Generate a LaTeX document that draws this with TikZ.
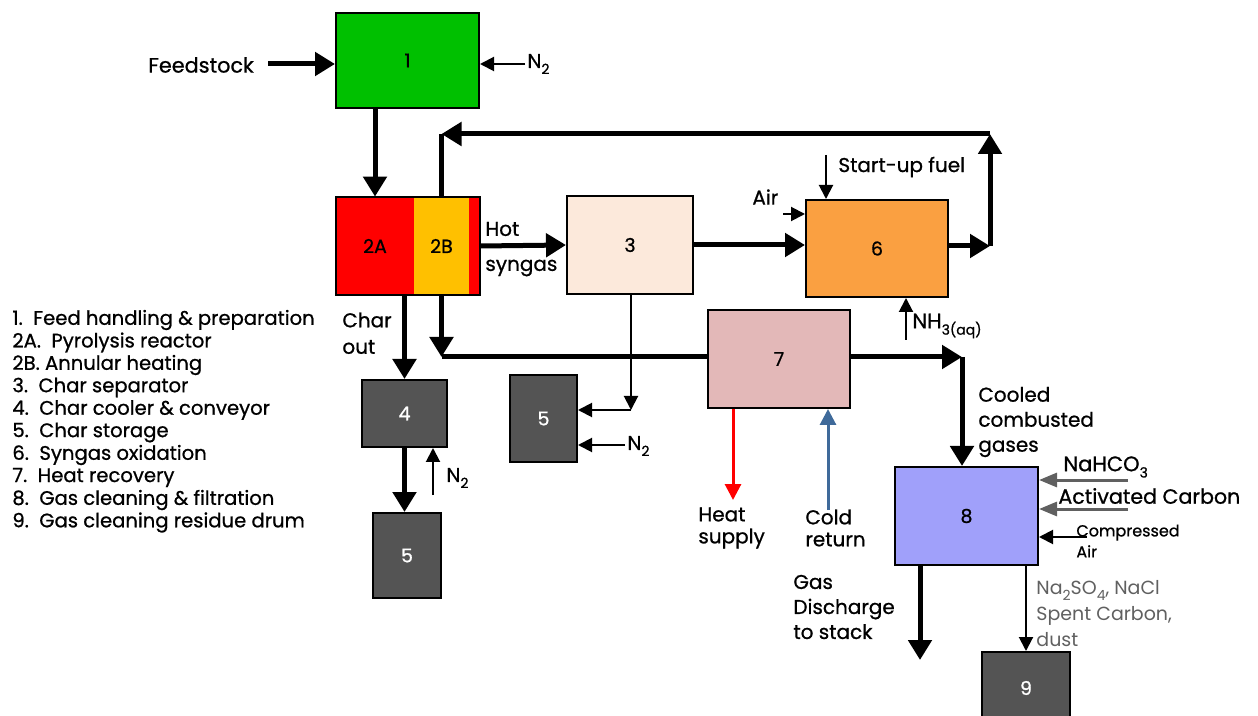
\documentclass[tikz,border=0pt]{standalone}
\usepackage{fontspec}
\setmainfont{Poppins}[FakeBold=0.8]
\newfontfamily\thinfont{Poppins}
\usetikzlibrary{arrows.meta}

\newcommand{\lowsub}[1]{\raisebox{-0.55ex}{\scriptsize #1}}

\definecolor{feedgreen}{RGB}{0,192,0}
\definecolor{heatorange}{RGB}{255,192,0}
\definecolor{sepcream}{RGB}{252,233,219}
\definecolor{oxorange}{RGB}{250,160,65}
\definecolor{recpink}{RGB}{227,184,184}
\definecolor{cleanblue}{RGB}{160,160,250}
\definecolor{storegray}{RGB}{84,84,84}
\definecolor{coldblue}{RGB}{63,106,154}
\definecolor{dosegray}{RGB}{96,96,96}

\tikzset{
  unit/.style={draw=black, line width=1pt, inner sep=0pt, font=\fontsize{9.5}{11}\selectfont},
  darkunit/.style={unit, fill=storegray, text=white},
  bigflow/.style={line width=2.5pt, -{Triangle[length=10pt,width=11.5pt]}},
  bigline/.style={line width=2.5pt},
  smallflow/.style={line width=1pt, -{Triangle[length=7pt,width=7pt]}},
  lbl/.style={font=\fontsize{10}{11}\selectfont, inner sep=0pt, anchor=west},
}

\begin{document}
\begin{tikzpicture}[x=0.5pt,y=-0.5pt]
    \useasboundingbox (0,0) rectangle (1258,716);

    % Process units
    \node[unit, fill=feedgreen, minimum width=71.5pt, minimum height=47.5pt] (b1) at (407.5,60.5) {1};
    \node[fill=red, inner sep=0pt, minimum width=39pt, minimum height=49pt, font=\fontsize{9.5}{11}\selectfont] (b2a) at (375,246) {2A};
    \node[fill=heatorange, inner sep=0pt, minimum width=27.5pt, minimum height=49pt, font=\fontsize{9.5}{11}\selectfont] (b2b) at (441.5,246) {2B};
    \node[fill=red, inner sep=0pt, minimum width=5.5pt, minimum height=49pt] (b2c) at (474.5,246) {};
    \draw[line width=1pt] (b2a.north west) rectangle (b2c.south east);
    \node[unit, fill=sepcream, minimum width=63pt, minimum height=49pt] (b3) at (630,245) {3};
    \node[unit, fill=oxorange, minimum width=71pt, minimum height=48.5pt] (b6) at (877,248.5) {6};
    \node[unit, fill=recpink, minimum width=71pt, minimum height=49pt] (b7) at (779,359) {7};
    \node[darkunit, minimum width=42.5pt, minimum height=33.5pt] (b4) at (404.5,413.5) {4};
    \node[darkunit, minimum width=34pt, minimum height=42.5pt] (b5a) at (407,555.5) {5};
    \node[darkunit, minimum width=33.5pt, minimum height=43.5pt] (b5b) at (543.5,418.5) {5};
    \node[unit, fill=cleanblue, minimum width=71.5pt, minimum height=49pt] (b8) at (966.5,516) {8};
    \node[darkunit, minimum width=44pt, minimum height=36pt, text depth=0pt] (b9) at (1026,688) {9};

    % Free ends of the streams
    \coordinate (cfeed) at (268,64);
    \coordinate (c6r) at (990,246);
    \coordinate (rtop) at (990,134);
    \coordinate (cfuel) at (826,155);
    \coordinate (cair) at (783,214);
    \coordinate (cnh) at (906,340);
    \coordinate (c35) at (631,410);
    \coordinate (cn1) at (525,64);
    \coordinate (cn5) at (625,445);
    \coordinate (cn4) at (433,495);
    \coordinate (c78) at (962,357);
    \coordinate (cheat) at (733,500);
    \coordinate (ccold) at (828,510);
    \coordinate (cna) at (1128,480);
    \coordinate (cac) at (1128,509);
    \coordinate (cca) at (1087,537);
    \coordinate (cgas) at (920,660);

    % Labels
    \node[lbl, font=\fontsize{10.4}{11}\selectfont] (feed) at (148,65) {Feedstock};
    \node[lbl] (n2a) at (527,64) {N\lowsub{2}};
    \node[lbl] (hot) at (485,229) {Hot};
    \node[lbl] (syn) at (485,268) {syngas};
    \node[lbl] (air) at (752,197) {Air};
    \node[lbl] (fuel) at (838,167) {Start-up fuel};
    \node[lbl, font=\fontsize{10.5}{12}\selectfont] (nh) at (912,326) {NH\lowsub{3(aq)}};
    \node[lbl] (char1) at (342,320) {Char};
    \node[lbl] (char2) at (342,347) {out};
    \node[lbl] (n2b) at (446,478) {N\lowsub{2}};
    \node[lbl] (n2c) at (627,446) {N\lowsub{2}};
    \node[lbl, align=left] (heat) at (698,528) {Heat\\supply};
    \node[lbl, align=left] (cold) at (805,528) {Cold\\return};
    \node[lbl, align=left, font=\fontsize{10}{12.5}\selectfont] (cool) at (978,422) {Cooled\\combusted\\gases};
    \node[lbl, font=\fontsize{10.5}{12}\selectfont] (nahco) at (1063,467) {NaHCO\lowsub{3}};
    \node[lbl, font=\fontsize{10.3}{12}\selectfont] (acarb) at (1058,496) {Activated Carbon};
    \node[lbl, align=left, font=\fontsize{8}{10.5}\selectfont] (comp) at (1076,541) {Compressed\\Air};
    \node[lbl, align=left, font=\fontsize{10}{12.5}\selectfont] (stack) at (793,607) {Gas\\Discharge\\to stack};
    \node[lbl, align=left, text=dosegray, font=\thinfont\fontsize{9.5}{13}\selectfont] (resid) at (1036,614) {Na\lowsub{2}SO\lowsub{4}, NaCl\\Spent Carbon,\\dust};

    % Legend
    \foreach \t [count=\i] in {1.\ \ Feed handling \& preparation, 2A.\ \ Pyrolysis reactor, 2B. Annular heating, 3.\ \ Char separator, 4.\ \ Char cooler \& conveyor, 5.\ \ Char storage, 6.\ \ Syngas oxidation, 7.\ \ Heat recovery, 8.\ \ Gas cleaning \& filtration, 9.\ \ Gas cleaning residue drum}
        \node[lbl, font=\fontsize{9.8}{11}\selectfont] (leg\i) at (12,297.5+22.5*\i) {\t};

    % Main flow
    \draw[bigflow] (cfeed) -- (cfeed -| b1.west);
    \draw[bigflow] (b1.south -| b2a.north) -- (b2a.north);
    \draw[bigflow] (b2c.east) -- (b3.west);
    \draw[bigflow] (b3.east) -- (b3.east -| b6.west);
    \draw[bigflow] (b6.east |- c6r) -- (c6r);
    \draw[bigflow] (c6r) -- (rtop);
    \draw[bigflow] (rtop) -- (b2b.north |- rtop);
    \draw[bigline] (b2b.north |- rtop) -- (b2b.north);
    \draw[bigflow] (b2a.south -| b4.north) -- (b4.north);
    \draw[bigflow] (b4.south) -- (b4.south |- b5a.north);
    \draw[bigflow] (b2b.south) -- (b2b.south |- c78);
    \draw[bigline] (b2b.south |- c78) -- (c78 -| b7.west);
    \draw[bigflow] (c78 -| b7.east) -- (c78);
    \draw[bigflow] (c78) -- (c78 |- b8.north);
    \draw[bigflow] (b8.south -| cgas) -- (cgas);

    % Side streams
    \draw[smallflow] (cn1) -- (cn1 -| b1.east);
    \draw[smallflow] (cfuel) -- (cfuel |- b6.north);
    \draw[smallflow] (cair) -- (cair -| b6.west);
    \draw[smallflow] (cnh) -- (cnh |- b6.south);
    \draw[smallflow] (b3.south -| c35) -- (c35);
    \draw[smallflow] (c35) -- (c35 -| b5b.east);
    \draw[smallflow] (cn5) -- (cn5 -| b5b.east);
    \draw[smallflow] (cn4) -- (cn4 |- b4.south);
    \draw[smallflow] (b8.south -| b9.north) -- (b9.north);
    \draw[smallflow] (cca) -- (cca -| b8.east);
    \draw[line width=1.5pt, dosegray, -{Triangle[length=9pt,width=7pt]}] (cna) -- (cna -| b8.east);
    \draw[line width=1.5pt, dosegray, -{Triangle[length=9pt,width=7pt]}] (cac) -- (cac -| b8.east);

    % Heating circuit
    \draw[line width=1.5pt, red, -{Triangle[length=8pt,width=8pt]}] (b7.south -| cheat) -- (cheat);
    \draw[line width=1.5pt, coldblue, -{Triangle[length=8pt,width=8pt]}] (ccold) -- (ccold |- b7.south);
\end{tikzpicture}
\end{document}
